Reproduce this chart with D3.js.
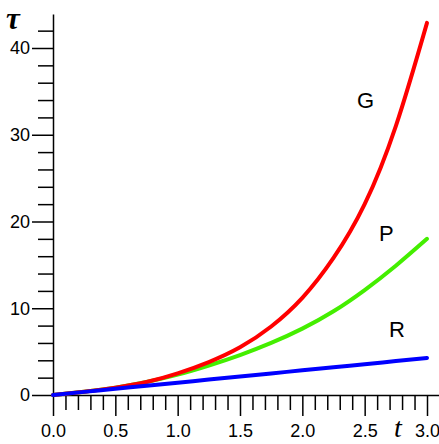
<!DOCTYPE html>
<html>
<head>
<meta charset="utf-8">
<script src="https://cdn.jsdelivr.net/npm/d3@7"></script>
<style>
  body { margin: 0; background: #fff; }
  svg { display: block; }
  .axis path, .axis line { stroke: #000; stroke-width: 1.5; }
  .axis text { font-family: "Liberation Sans", Arial, sans-serif; font-size: 18px; fill: #000; }
  .curve { fill: none; stroke-width: 4; stroke-linecap: round; stroke-linejoin: round; }
  .lbl { font-family: "Liberation Sans", Arial, sans-serif; font-size: 22px; }
  .var { font-family: "Liberation Serif", "Times New Roman", serif; font-style: italic; }
</style>
</head>
<body>
<svg id="vis"></svg>
<script>
const width = 439;
const height = 444;

// values
const tValues = [0, 0.25, 0.5, 0.75, 1.0, 1.25, 1.5, 1.75, 2.0, 2.25, 2.5, 2.75, 3.0];
const gValues = [0, 0.38, 0.85, 1.5, 2.5, 3.8, 5.5, 7.9, 11.2, 15.8, 22.0, 31.0, 42.9];
const pValues = [0, 0.38, 0.85, 1.5, 2.35, 3.4, 4.6, 6.0, 7.65, 9.65, 12.1, 14.9, 18.0];
const rValues = [0, 0.36, 0.71, 1.07, 1.42, 1.78, 2.13, 2.49, 2.84, 3.2, 3.55, 3.91, 4.26];

const xMajor = [0, 0.5, 1.0, 1.5, 2.0, 2.5, 3.0];
const xMinor = d3.range(1, 31).map(i => i / 10).filter(v => Math.round(v * 10) % 5 !== 0);
const yMajor = [0, 10, 20, 30, 40];
const yMinor = [2, 4, 6, 8, 12, 14, 16, 18, 22, 24, 26, 28, 32, 34, 36, 38, 42];

const series = [
  {name: "P", values: pValues, color: "#44ee00"},
  {name: "G", values: gValues, color: "#ff0000"},
  {name: "R", values: rValues, color: "#0000ff"}
];

const x = d3.scaleLinear().domain([0, 3]).range([53, 427]);
const y = d3.scaleLinear().domain([0, 40]).range([395, 48]);

// axis line runs a bit past the last tick
const xLine = x.copy().domain([0, x.invert(439)]).range([53, 439]);
const yLine = y.copy().domain([0, y.invert(14)]).range([395, 14]);

const svg = d3.select("#vis")
    .attr("width", width)
    .attr("height", height);

// x axis: minor ticks, then major with labels
svg.append("g")
    .attr("class", "axis")
    .attr("transform", `translate(0,${y(0)})`)
    .call(d3.axisBottom(xLine).tickValues(xMinor).tickSize(15).tickSizeOuter(0).tickFormat(""));

svg.append("g")
    .attr("class", "axis")
    .attr("transform", `translate(0,${y(0)})`)
    .call(d3.axisBottom(x).tickValues(xMajor).tickSize(21).tickPadding(8).tickFormat(d3.format(".1f")))
    .call(g => g.select(".domain").remove());

// y axis
svg.append("g")
    .attr("class", "axis")
    .attr("transform", `translate(${x(0)},0)`)
    .call(d3.axisLeft(yLine).tickValues(yMinor).tickSize(15).tickSizeOuter(0).tickFormat(""));

svg.append("g")
    .attr("class", "axis")
    .attr("transform", `translate(${x(0)},0)`)
    .call(d3.axisLeft(y).tickValues(yMajor).tickSize(21).tickPadding(2))
    .call(g => g.select(".domain").remove());

// curves
const line = d3.line()
    .x((d, i) => x(tValues[i]))
    .y(d => y(d))
    .curve(d3.curveNatural);

svg.append("g")
  .selectAll("path")
  .data(series)
  .enter()
  .append("path")
    .attr("class", "curve")
    .attr("stroke", d => d.color)
    .attr("d", d => line(d.values));

// curve labels
const labels = [
  {text: "G", x: 357, y: 108},
  {text: "P", x: 379, y: 241},
  {text: "R", x: 389, y: 337}
];
svg.selectAll("text.lbl")
  .data(labels)
  .enter()
  .append("text")
    .attr("class", "lbl")
    .attr("x", d => d.x)
    .attr("y", d => d.y)
    .text(d => d.text);

// axis variable names
svg.append("text")
    .attr("class", "var")
    .attr("x", 6)
    .attr("y", 29)
    .style("font-size", "31px")
    .style("font-weight", "bold")
    .text("τ");

svg.append("text")
    .attr("class", "var")
    .attr("x", 398)
    .attr("y", 437)
    .attr("text-anchor", "middle")
    .style("font-size", "28px")
    .text("t");
</script>
</body>
</html>
